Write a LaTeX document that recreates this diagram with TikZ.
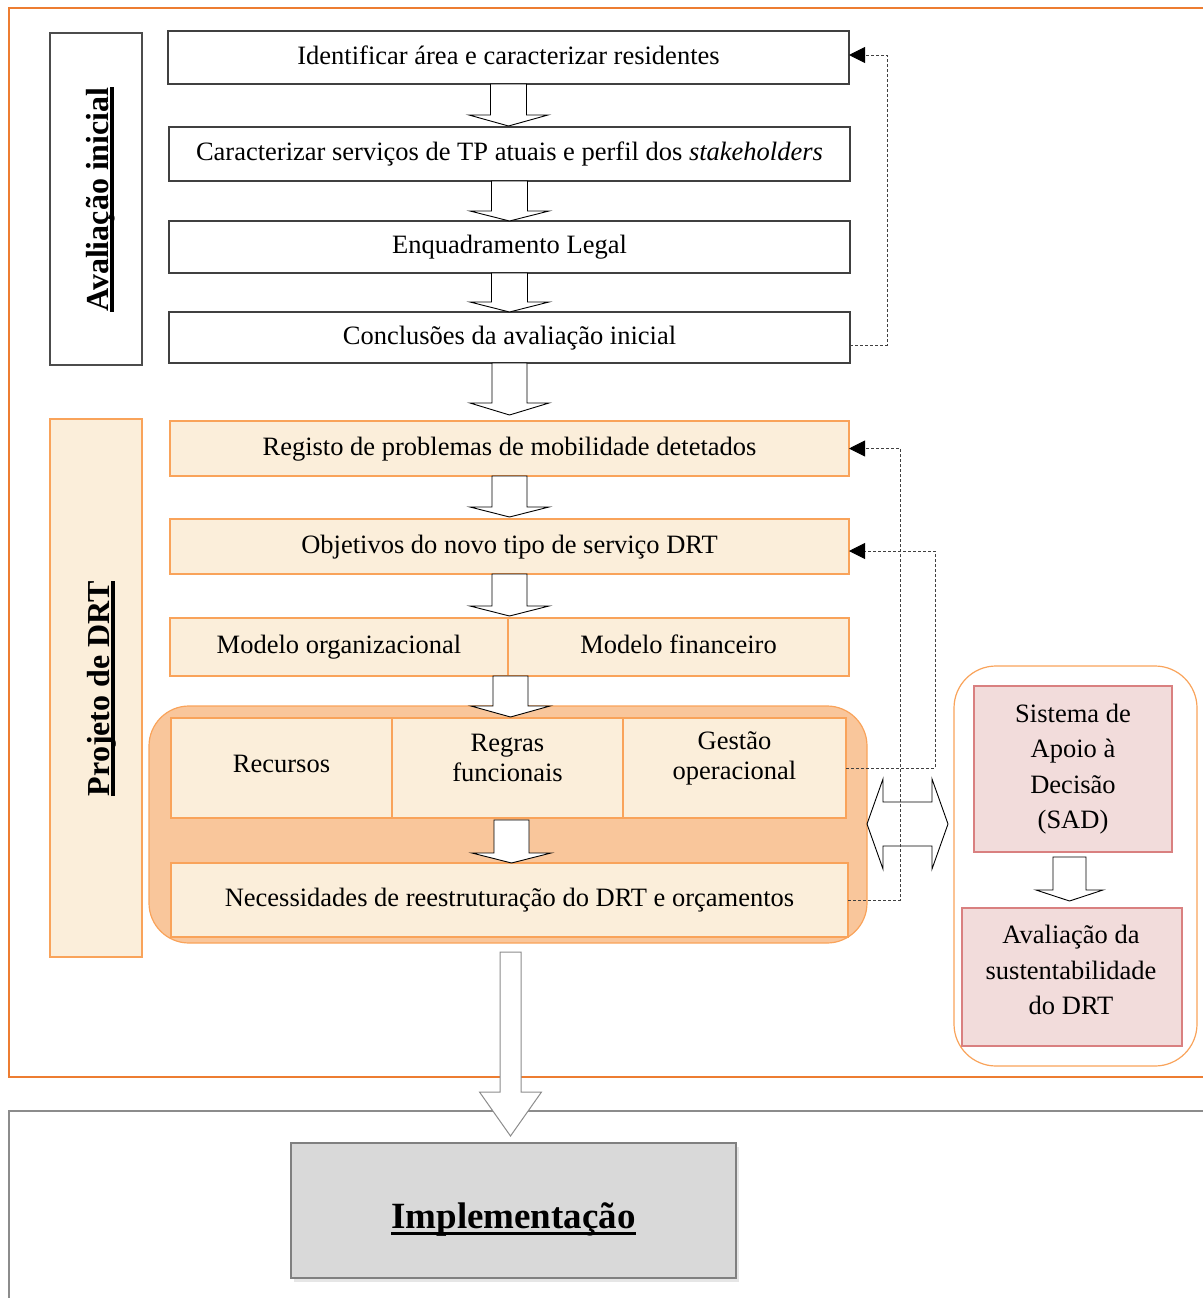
\documentclass[tikz,border=0pt]{standalone}
\usepackage{fontspec}
\setmainfont{Liberation Serif}
\usetikzlibrary{arrows.meta,shadows,calc}

\definecolor{frameorange}{HTML}{ED7D31}
\definecolor{beige}{HTML}{FBEEDA}
\definecolor{beigeline}{HTML}{F9A35A}
\definecolor{groupfill}{HTML}{F9C69B}
\definecolor{sadfill}{HTML}{F2DCDB}
\definecolor{sadline}{HTML}{D98080}
\definecolor{implfill}{HTML}{D9D9D9}
\definecolor{framegray}{HTML}{8C8C8C}

% text with a thick rule under it: #1 drop below baseline, #2 rule thickness
\newcommand\thickul[3]{\setbox0=\hbox{#3}\rlap{\vrule height -#1 depth \dimexpr#1+#2\relax width \wd0}\box0}

\begin{document}
\begin{tikzpicture}[x=1pt,y=-1pt,
  every node/.style={inner sep=0pt, outer sep=0pt},
  txt/.style={font=\fontsize{26.5}{35.5}\selectfont, align=center},
  oneline/.style={text height=18.5pt, text depth=5.5pt},
  plainbox/.style={draw=black!75, line width=1.2pt, fill=white, txt, oneline},
  beigebox/.style={draw=beigeline, line width=1.2pt, fill=beige, txt},
  sadbox/.style={draw=sadline, line width=1.2pt, fill=sadfill, txt},
  blockarrow/.style={draw=black, line width=0.9pt, fill=white, line join=miter},
  grayarrow/.style={draw=framegray, line width=1pt, fill=white, line join=miter},
  feedback/.style={draw=black!75, line width=0.9pt, dash pattern=on 3pt off 2pt,
    -{Triangle[length=16pt,width=16pt,color=black]}},
  sidetitle/.style={font=\fontsize{32}{38}\selectfont\bfseries, rotate=90, anchor=base},
  pics/dnarrow/.style n args={5}{code={
    \path[#5] (-#1,0) -- (-#1,#3-#4) -- (-#2,#3-#4) -- (0,#3) -- (#2,#3-#4)
      -- (#1,#3-#4) -- (#1,0) -- cycle;}}
]
\useasboundingbox (0,0) rectangle (1202,1298);

% outer frames
\draw[frameorange, line width=2pt] (9,8) rectangle (1230,1077);
\draw[framegray, line width=2.5pt] (9,1111) rectangle (1230,1330);

% phase titles
\node[draw=black!70, line width=1.2pt, fill=white, minimum width=92, minimum height=332] (avbox) at (96,199) {};
\node[sidetitle] (avtitle) at (108,199.5) {\thickul{2pt}{3.5pt}{Avaliação inicial}};
\node[draw=beigeline, line width=1.2pt, fill=beige, minimum width=92, minimum height=538] (pjbox) at (96,688) {};
\node[sidetitle] (pjtitle) at (109,688.5) {\thickul{2pt}{3.5pt}{Projeto de DRT}};

% initial assessment steps
\node[plainbox, minimum width=681, minimum height=53] (b1) at (508.5,57.5) {Identificar área e caracterizar residentes};
\node[plainbox, minimum width=681, minimum height=54] (b2) at (509.5,154) {Caracterizar serviços de TP atuais e perfil dos \textit{stakeholders}};
\node[plainbox, minimum width=681, minimum height=52] (b3) at (509.5,247) {Enquadramento Legal};
\node[plainbox, minimum width=681, minimum height=51] (b4) at (509.5,337.5) {Conclusões da avaliação inicial};

% DRT design steps
\node[beigebox, oneline, minimum width=679, minimum height=55] (b5) at (509.5,448.5) {Registo de problemas de mobilidade detetados};
\node[beigebox, oneline, minimum width=679, minimum height=55] (b6) at (509.5,546.5) {Objetivos do novo tipo de serviço DRT};
\node[beigebox, oneline, minimum width=338, minimum height=58] (mo) at (339,647) {Modelo organizacional};
\node[beigebox, oneline, minimum width=341, minimum height=58] (mf) at (678.5,647) {Modelo financeiro};

% operational group
\draw[draw=beigeline, line width=1.2pt, fill=groupfill, rounded corners=40pt] (149,706) rectangle (867,943);
\node[beigebox, minimum width=221, minimum height=100] (rec) at (281.5,768) {};
\node[beigebox, minimum width=231, minimum height=100] (reg) at (507.5,768) {};
\node[beigebox, minimum width=223, minimum height=100] (ges) at (734.5,768) {};
\node[txt, oneline] (rect) at (281.5,766) {Recursos};
\node[txt, font=\fontsize{26.5}{30}\selectfont] (regt) at (507.5,758) {Regras\\funcionais};
\node[txt, font=\fontsize{26.5}{30}\selectfont] (gest) at (734.5,758) {Gestão\\operacional};
\node[beigebox, oneline, minimum width=677, minimum height=74] (nec) at (509.5,900) {Necessidades de reestruturação do DRT e orçamentos};

% decision support
\draw[draw=beigeline, line width=1.2pt, fill=white, rounded corners=42pt] (954,666) rectangle (1197,1066);
\node[sadbox, minimum width=198, minimum height=166] (sad) at (1073,769) {Sistema de\\Apoio à\\Decisão\\(SAD)};
\node[sadbox, minimum width=220, minimum height=138] (sust) at (1072,977) {};
\node[txt] (sustt) at (1071,970) {Avaliação da\\sustentabilidade\\do DRT};

% implementation
\node[draw=black!50, line width=2pt, fill=implfill, minimum width=445, minimum height=135,
  drop shadow={shadow xshift=3pt, shadow yshift=-4pt, opacity=0.2, fill=black!50}] (impl) at (513.5,1210.5) {};
\node[font=\fontsize{37}{40}\selectfont\bfseries, anchor=base] (implt) at (513.5,1228) {\thickul{4pt}{3pt}{Implementação}};

% block arrows between steps
\pic at (b1.south) {dnarrow={18}{39.5}{42}{11}{blockarrow}};
\pic at (b2.south) {dnarrow={18}{39.5}{40}{10}{blockarrow}};
\pic at (b3.south) {dnarrow={18}{39.5}{39}{10}{blockarrow}};
\pic at (b4.south) {dnarrow={17.5}{39.5}{52}{12}{blockarrow}};
\pic at (b5.south) {dnarrow={17.5}{39.5}{41}{10}{blockarrow}};
\pic at (b6.south) {dnarrow={17.5}{39.5}{42}{10}{blockarrow}};
\pic at ($(mo.south east)+(2.5,0)$) {dnarrow={17.5}{39.5}{41}{11}{blockarrow}};
\pic at ($(reg.south)+(4,2)$) {dnarrow={17.5}{39.5}{43}{10}{blockarrow}};
\pic at ($(sad.south)+(-3.5,5)$) {dnarrow={16.5}{33.5}{44}{11}{blockarrow}};

% two-way arrow between design and decision support
\path[blockarrow] (867,824) -- (883,779) -- (883,802) -- (932,802) -- (932,779) -- (948,824)
  -- (932,869) -- (932,846) -- (883,846) -- (883,869) -- cycle;

% feedback loops
\draw[feedback] ([yshift=-7.5pt]b4.east) -- ++(37,0) |- ([yshift=2.5pt]b1.east);
\draw[feedback] (nec.east) -- ++(52,0) |- (b5.east);
\draw[feedback] (ges.east) -- ++(89,0) |- ([yshift=-4.5pt]b6.east);

% transition to implementation
\pic at ($(nec.south)+(1,15)$) {dnarrow={10.5}{31}{184}{44}{grayarrow}};
\end{tikzpicture}
\end{document}
